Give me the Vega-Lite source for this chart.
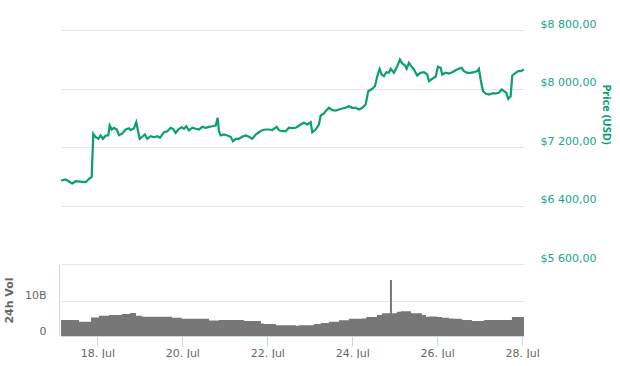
{
  "$schema": "https://vega.github.io/schema/vega-lite/v6.json",
  "padding": {"left": 3, "top": 18, "right": 6, "bottom": 0},
  "background": "white",
  "spacing": 0,
  "bounds": "flush",
  "config": {
    "view": {"stroke": null},
    "font": "DejaVu Sans",
    "axis": {"labelFont": "DejaVu Sans", "labelFontSize": 11, "gridColor": "#e6e6e6", "gridWidth": 1}
  },
  "datasets": {
    "price": [
      {"t":"2018-07-17T03:30","p":6742},{"t":"2018-07-17T06:10","p":6756},{"t":"2018-07-17T09:50","p":6701},{"t":"2018-07-17T11:50","p":6732},{"t":"2018-07-17T15:30","p":6724},{"t":"2018-07-17T17:30","p":6719},{"t":"2018-07-17T19:20","p":6765},{"t":"2018-07-17T20:50","p":6792},{"t":"2018-07-17T21:45","p":7381},{"t":"2018-07-17T23:05","p":7334},
      {"t":"2018-07-18T00:35","p":7312},{"t":"2018-07-18T01:55","p":7357},{"t":"2018-07-18T03:13","p":7312},{"t":"2018-07-18T04:45","p":7357},{"t":"2018-07-18T06:13","p":7357},{"t":"2018-07-18T07:00","p":7494},{"t":"2018-07-18T08:08","p":7439},{"t":"2018-07-18T09:26","p":7463},{"t":"2018-07-18T10:57","p":7439},{"t":"2018-07-18T12:15","p":7361},{"t":"2018-07-18T14:07","p":7385},{"t":"2018-07-18T16:02","p":7439},{"t":"2018-07-18T17:54","p":7457},{"t":"2018-07-18T18:52","p":7430},{"t":"2018-07-18T20:43","p":7457},{"t":"2018-07-18T22:01","p":7539},{"t":"2018-07-18T23:09","p":7402},{"t":"2018-07-18T23:57","p":7312},
      {"t":"2018-07-19T01:25","p":7340},{"t":"2018-07-19T02:56","p":7371},{"t":"2018-07-19T04:14","p":7312},{"t":"2018-07-19T06:10","p":7348},{"t":"2018-07-19T08:01","p":7334},{"t":"2018-07-19T09:53","p":7348},{"t":"2018-07-19T11:25","p":7326},{"t":"2018-07-19T13:40","p":7402},{"t":"2018-07-19T15:32","p":7416},{"t":"2018-07-19T17:27","p":7463},{"t":"2018-07-19T18:45","p":7449},{"t":"2018-07-19T20:16","p":7394},{"t":"2018-07-19T22:08","p":7449},{"t":"2018-07-19T23:40","p":7471},
      {"t":"2018-07-20T00:58","p":7449},{"t":"2018-07-20T02:16","p":7484},{"t":"2018-07-20T03:47","p":7426},{"t":"2018-07-20T05:39","p":7463},{"t":"2018-07-20T07:34","p":7449},{"t":"2018-07-20T09:26","p":7439},{"t":"2018-07-20T11:17","p":7476},{"t":"2018-07-20T13:13","p":7463},{"t":"2018-07-20T15:05","p":7476},{"t":"2018-07-20T16:56","p":7484},{"t":"2018-07-20T18:52","p":7494},{"t":"2018-07-20T19:59","p":7599},{"t":"2018-07-20T20:43","p":7416},{"t":"2018-07-20T21:41","p":7357},{"t":"2018-07-20T23:33","p":7371},
      {"t":"2018-07-21T01:25","p":7357},{"t":"2018-07-21T03:20","p":7340},{"t":"2018-07-21T04:38","p":7279},{"t":"2018-07-21T06:10","p":7312},{"t":"2018-07-21T08:01","p":7312},{"t":"2018-07-21T09:53","p":7340},{"t":"2018-07-21T11:48","p":7357},{"t":"2018-07-21T13:40","p":7340},{"t":"2018-07-21T15:32","p":7312},{"t":"2018-07-21T17:27","p":7371},{"t":"2018-07-21T19:19","p":7402},{"t":"2018-07-21T21:10","p":7430},{"t":"2018-07-21T23:05","p":7439},
      {"t":"2018-07-22T00:58","p":7439},{"t":"2018-07-22T02:49","p":7430},{"t":"2018-07-22T05:18","p":7476},{"t":"2018-07-22T06:36","p":7430},{"t":"2018-07-22T08:28","p":7416},{"t":"2018-07-22T10:23","p":7416},{"t":"2018-07-22T12:15","p":7463},{"t":"2018-07-22T14:07","p":7457},{"t":"2018-07-22T16:02","p":7463},{"t":"2018-07-22T17:30","p":7484},{"t":"2018-07-22T18:52","p":7508},{"t":"2018-07-22T20:43","p":7531},{"t":"2018-07-22T22:35","p":7508},
      {"t":"2018-07-23T00:31","p":7539},{"t":"2018-07-23T01:25","p":7402},{"t":"2018-07-23T03:20","p":7439},{"t":"2018-07-23T05:11","p":7508},{"t":"2018-07-23T06:09","p":7631},{"t":"2018-07-23T08:01","p":7658},{"t":"2018-07-23T08:59","p":7690},{"t":"2018-07-23T10:50","p":7736},{"t":"2018-07-23T12:42","p":7703},{"t":"2018-07-23T14:37","p":7699},{"t":"2018-07-23T16:29","p":7713},{"t":"2018-07-23T18:21","p":7727},{"t":"2018-07-23T20:16","p":7736},{"t":"2018-07-23T22:08","p":7758},
      {"t":"2018-07-24T00:00","p":7736},{"t":"2018-07-24T01:55","p":7736},{"t":"2018-07-24T03:47","p":7713},{"t":"2018-07-24T05:39","p":7736},{"t":"2018-07-24T07:34","p":7781},{"t":"2018-07-24T09:02","p":7963},{"t":"2018-07-24T11:18","p":7996},{"t":"2018-07-24T12:49","p":8031},{"t":"2018-07-24T14:07","p":8168},{"t":"2018-07-24T15:28","p":8269},{"t":"2018-07-24T16:36","p":8191},{"t":"2018-07-24T17:54","p":8168},{"t":"2018-07-24T19:12","p":8223},{"t":"2018-07-24T20:44","p":8215},{"t":"2018-07-24T21:41","p":8269},{"t":"2018-07-24T23:33","p":8215},
      {"t":"2018-07-25T01:25","p":8305},{"t":"2018-07-25T02:56","p":8397},{"t":"2018-07-25T04:14","p":8342},{"t":"2018-07-25T05:46","p":8315},{"t":"2018-07-25T06:43","p":8269},{"t":"2018-07-25T08:01","p":8351},{"t":"2018-07-25T09:19","p":8305},{"t":"2018-07-25T10:50","p":8260},{"t":"2018-07-25T12:42","p":8178},{"t":"2018-07-25T14:37","p":8215},{"t":"2018-07-25T16:29","p":8223},{"t":"2018-07-25T18:21","p":8191},{"t":"2018-07-25T19:19","p":8100},{"t":"2018-07-25T21:10","p":8133},{"t":"2018-07-25T23:05","p":8160},
      {"t":"2018-07-26T00:23","p":8297},{"t":"2018-07-26T01:55","p":8283},{"t":"2018-07-26T02:49","p":8191},{"t":"2018-07-26T04:44","p":8215},{"t":"2018-07-26T06:36","p":8205},{"t":"2018-07-26T08:28","p":8223},{"t":"2018-07-26T10:23","p":8250},{"t":"2018-07-26T12:15","p":8269},{"t":"2018-07-26T13:47","p":8283},{"t":"2018-07-26T15:05","p":8237},{"t":"2018-07-26T16:56","p":8215},{"t":"2018-07-26T18:52","p":8215},{"t":"2018-07-26T20:44","p":8223},{"t":"2018-07-26T22:35","p":8237},{"t":"2018-07-26T23:33","p":8269},
      {"t":"2018-07-27T00:31","p":8123},{"t":"2018-07-27T01:49","p":7963},{"t":"2018-07-27T03:20","p":7932},{"t":"2018-07-27T05:12","p":7918},{"t":"2018-07-27T07:04","p":7932},{"t":"2018-07-27T08:59","p":7932},{"t":"2018-07-27T10:51","p":7941},{"t":"2018-07-27T12:22","p":7986},{"t":"2018-07-27T13:40","p":7963},{"t":"2018-07-27T14:58","p":7941},{"t":"2018-07-27T16:06","p":7859},{"t":"2018-07-27T17:27","p":7895},{"t":"2018-07-27T18:22","p":8178},{"t":"2018-07-27T20:17","p":8215},{"t":"2018-07-27T21:44","p":8237},{"t":"2018-07-27T23:06","p":8237},
      {"t":"2018-07-28T00:58","p":8260}
    ],
    "volume": [
      {"t":"2018-07-17T03:30","v":4.6e9},{"t":"2018-07-17T13:40","v":4.1e9},{"t":"2018-07-17T20:27","v":5.3e9},{"t":"2018-07-18T00:58","v":5.8e9},{"t":"2018-07-18T06:37","v":6.0e9},{"t":"2018-07-18T13:57","v":6.3e9},{"t":"2018-07-18T18:28","v":6.6e9},{"t":"2018-07-18T21:51","v":5.8e9},{"t":"2018-07-19T01:14","v":5.5e9},{"t":"2018-07-19T18:11","v":5.2e9},{"t":"2018-07-19T23:50","v":4.9e9},{"t":"2018-07-20T15:05","v":4.4e9},{"t":"2018-07-20T20:43","v":4.6e9},{"t":"2018-07-21T10:50","v":4.3e9},{"t":"2018-07-21T20:26","v":3.6e9},{"t":"2018-07-21T22:08","v":3.4e9},{"t":"2018-07-22T04:55","v":3.1e9},{"t":"2018-07-22T16:12","v":2.9e9},{"t":"2018-07-22T17:54","v":3.1e9},{"t":"2018-07-23T02:22","v":3.4e9},{"t":"2018-07-23T06:19","v":3.7e9},{"t":"2018-07-23T10:50","v":4.1e9},{"t":"2018-07-23T16:29","v":4.5e9},{"t":"2018-07-23T22:08","v":4.9e9},{"t":"2018-07-24T05:29","v":5.0e9},{"t":"2018-07-24T07:55","v":5.4e9},{"t":"2018-07-24T13:57","v":6.0e9},{"t":"2018-07-24T16:46","v":6.5e9},{"t":"2018-07-24T21:17","v":16.0e9},{"t":"2018-07-24T22:25","v":6.5e9},{"t":"2018-07-25T01:14","v":6.9e9},{"t":"2018-07-25T03:30","v":7.1e9},{"t":"2018-07-25T09:09","v":6.5e9},{"t":"2018-07-25T15:22","v":6.0e9},{"t":"2018-07-25T17:37","v":5.5e9},{"t":"2018-07-25T19:19","v":5.6e9},{"t":"2018-07-25T23:50","v":5.4e9},{"t":"2018-07-26T02:39","v":5.2e9},{"t":"2018-07-26T06:36","v":5.0e9},{"t":"2018-07-26T09:26","v":4.9e9},{"t":"2018-07-26T13:57","v":4.6e9},{"t":"2018-07-26T19:36","v":4.3e9},{"t":"2018-07-27T02:23","v":4.6e9},{"t":"2018-07-27T18:11","v":5.4e9},{"t":"2018-07-28T01:00","v":5.4e9}
    ]
  },
  "vconcat": [
    {
      "width": 463,
      "height": 234,
      "data": {"name": "price"},
      "mark": {"type": "line", "color": "#0a9e72", "strokeWidth": 2.2, "interpolate": "linear"},
      "encoding": {
        "x": {
          "field": "t", "type": "temporal", "axis": null,
          "scale": {"domain": [{"year": 2018, "month": 7, "date": 17, "hours": 3, "minutes": 30}, {"year": 2018, "month": 7, "date": 28, "hours": 1}]}
        },
        "y": {
          "field": "p", "type": "quantitative",
          "scale": {"domain": [5600, 8800], "nice": false, "zero": false},
          "axis": {
            "orient": "right",
            "values": [5600, 6400, 7200, 8000, 8800],
            "labelExpr": "'$' + floor(datum.value / 1000) + ' ' + format(datum.value % 1000, '03d') + ',00'",
            "labelColor": "#17a38a",
            "labelOffset": -6,
            "labelPadding": 16,
            "ticks": false,
            "tickSize": 0,
            "domain": false,
            "grid": true,
            "title": "Price (USD)",
            "titleFont": "Open Sans",
            "titleFontSize": 11,
            "titleFontWeight": "bold",
            "titleColor": "#009e73",
            "titlePadding": 5,
            "titleY": 84
          }
        }
      }
    },
    {
      "width": 463,
      "height": 72,
      "data": {"name": "volume"},
      "mark": {"type": "area", "color": "#777777", "interpolate": "step-after", "opacity": 1},
      "encoding": {
        "x": {
          "field": "t", "type": "temporal",
          "scale": {"domain": [{"year": 2018, "month": 7, "date": 17, "hours": 3, "minutes": 30}, {"year": 2018, "month": 7, "date": 28, "hours": 1}]},
          "axis": {
            "values": [{"year": 2018, "month": 7, "date": 18}, {"year": 2018, "month": 7, "date": 20}, {"year": 2018, "month": 7, "date": 22}, {"year": 2018, "month": 7, "date": 24}, {"year": 2018, "month": 7, "date": 26}, {"year": 2018, "month": 7, "date": 28}],
            "format": "%d. %b",
            "labelColor": "#666666",
            "labelPadding": 1,
            "tickSize": 10,
            "tickColor": "#ccd6eb",
            "domainColor": "#ccd6eb",
            "grid": false,
            "title": null
          }
        },
        "y": {
          "field": "v", "type": "quantitative",
          "scale": {"domain": [0, 20570000000], "nice": false},
          "axis": {
            "values": [0, 10000000000],
            "labelExpr": "datum.value == 0 ? '0' : format(datum.value / 1e9, 'd') + 'B'",
            "labelColor": "#666666",
            "labelOffset": -5,
            "labelPadding": 13,
            "ticks": false,
            "tickSize": 0,
            "offset": 2,
            "domainColor": "#ccd6eb",
            "grid": true,
            "title": "24h Vol",
            "titleFontSize": 11,
            "titleFontWeight": "bold",
            "titleColor": "#666666",
            "titlePadding": 10
          }
        }
      }
    }
  ]
}
